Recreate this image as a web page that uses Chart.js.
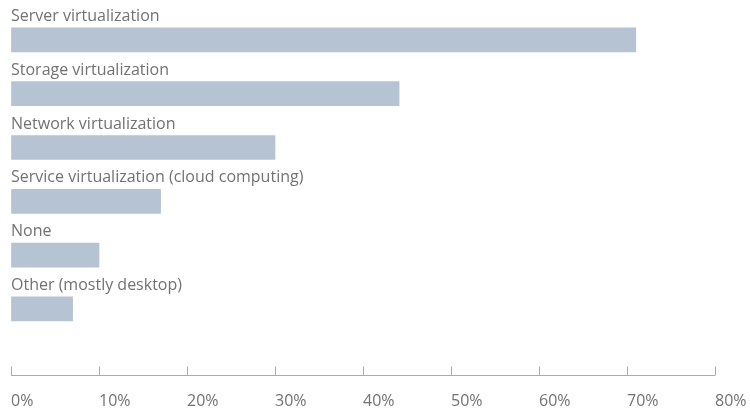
<!DOCTYPE html>
<html>
<head>
<meta charset="utf-8">
<script src="https://cdn.jsdelivr.net/npm/chart.js@4/dist/chart.umd.min.js"></script>
<style>
  html, body { margin: 0; padding: 0; background: #fff; }
  #wrap { width: 750px; height: 411px; }
</style>
</head>
<body>
<div id="wrap"><canvas id="virt-chart"></canvas></div>
<script>
var categories = [
    "Server virtualization",
    "Storage virtualization",
    "Network virtualization",
    "Service virtualization (cloud computing)",
    "None",
    "Other (mostly desktop)"
];
var shares = [71, 44.1, 30, 17, 10, 7];
var tickValues = [0, 10, 20, 30, 40, 50, 60, 70, 80];

var textColor = "#727272";
var fontFamily = "'Open Sans', 'Noto Sans', sans-serif";

// category names sit just above each bar
var barLabels = {
    id: 'barLabels',
    afterDatasetsDraw: function (chart) {
        var ctx = chart.ctx;
        var meta = chart.getDatasetMeta(0);
        ctx.save();
        ctx.font = "16px " + fontFamily;
        ctx.fillStyle = textColor;
        ctx.textAlign = "left";
        ctx.textBaseline = "alphabetic";
        meta.data.forEach(function (bar, i) {
            ctx.fillText(chart.data.labels[i], chart.chartArea.left, bar.y - bar.height / 2 - 7);
        });
        ctx.restore();
    }
};

// axis line with upward tick marks, below the bars
var axisLine = {
    id: 'axisLine',
    afterDraw: function (chart) {
        var ctx = chart.ctx;
        var x = chart.scales.x;
        var y = 375.5;
        ctx.save();
        ctx.strokeStyle = "#aaaaaa";
        ctx.lineWidth = 1;
        ctx.beginPath();
        ctx.moveTo(x.getPixelForValue(0), y);
        ctx.lineTo(x.getPixelForValue(80), y);
        tickValues.forEach(function (v) {
            var px = Math.round(x.getPixelForValue(v)) + 0.5;
            ctx.moveTo(px, y);
            ctx.lineTo(px, y - 9);
        });
        ctx.stroke();
        ctx.restore();
    }
};

var virtChart = new Chart(document.getElementById("virt-chart"), {
    type: 'bar',
    data: {
        labels: categories,
        datasets: [{
            data: shares,
            backgroundColor: "#b6c3d2",
            barThickness: 24,
            borderWidth: 0
        }]
    },
    options: {
        indexAxis: 'y',
        responsive: true,
        maintainAspectRatio: false,
        animation: false,
        layout: { padding: { left: 11, top: 13, right: 35, bottom: 0 } },
        plugins: { legend: { display: false }, tooltip: { enabled: false } },
        scales: {
            y: { display: false },
            x: {
                min: 0,
                max: 80,
                afterBuildTicks: function (scale) {
                    scale.ticks = tickValues.map(function (v) { return { value: v }; });
                },
                grid: {
                    display: true,
                    drawOnChartArea: false,
                    drawTicks: true,
                    tickLength: 56,
                    tickColor: 'rgba(0,0,0,0)'
                },
                border: { display: false },
                ticks: {
                    align: 'start',
                    padding: 0,
                    color: textColor,
                    font: { family: fontFamily, size: 16 },
                    callback: function (v) { return v + "%"; }
                }
            }
        }
    },
    plugins: [barLabels, axisLine]
});
</script>
</body>
</html>
